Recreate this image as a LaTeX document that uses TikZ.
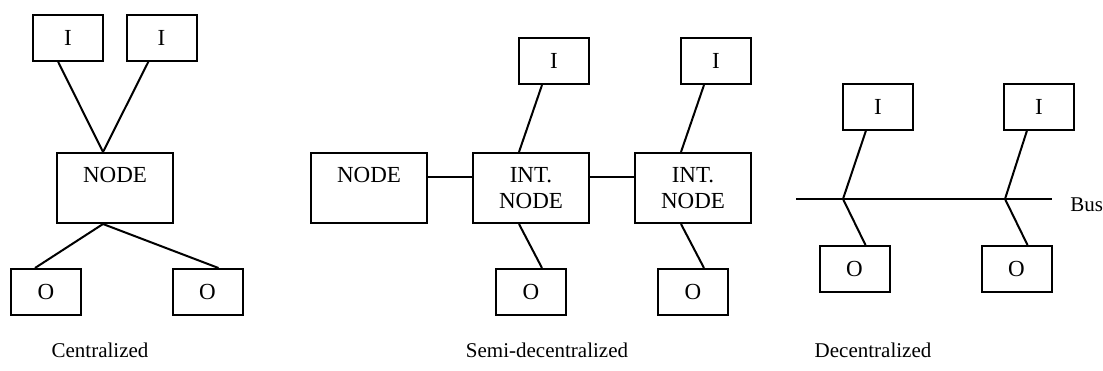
\documentclass[tikz,border=0pt]{standalone}
\usepackage{fontspec}
\setmainfont{Liberation Serif}

\tikzset{
  iobox/.style={draw, line width=1pt, minimum width=35pt, minimum height=23pt, inner sep=0pt, font=\fontsize{11.5}{13}\selectfont},
  nodebox/.style={draw, line width=1pt, minimum width=58pt, minimum height=35pt, inner sep=0pt, align=center, font=\fontsize{11.5}{13}\selectfont},
  link/.style={line width=1pt},
  caption/.style={font=\fontsize{10.5}{12}\selectfont}
}

\begin{document}
\begin{tikzpicture}[x=0.5pt, y=-0.5pt]
    \useasboundingbox (0,0) rectangle (1103,370);

    % Centralized: one node with all inputs and outputs
    \node[iobox] (cInA) at (68, 37.5) {I};
    \node[iobox] (cInB) at (161.5, 37.5) {I};
    \node[nodebox] (cHub) at (115, 188) {NODE\\\mbox{}};
    \node[iobox] (cOutA) at (46, 292) {O};
    \node[iobox] (cOutB) at (207.5, 292) {O};

    \draw[link] ([xshift=-5pt]cInA.south) -- ([xshift=-6pt]cHub.north);
    \draw[link] ([xshift=-6.5pt]cInB.south) -- ([xshift=-6pt]cHub.north);
    \draw[link] ([xshift=-6pt]cHub.south) -- ([xshift=-5.5pt]cOutA.north);
    \draw[link] ([xshift=-6pt]cHub.south) -- ([xshift=5.5pt]cOutB.north);

    \node[caption] (cCap) at (100, 350) {Centralized};

    % Semi-decentralized: node chained to intermediate nodes
    \node[nodebox] (sHub) at (369, 188) {NODE\\\mbox{}};
    \node[nodebox] (sIntA) at (531, 188) {INT.\\NODE};
    \node[nodebox] (sIntB) at (693, 188) {INT.\\NODE};
    \node[iobox] (sInA) at (554, 61) {I};
    \node[iobox] (sInB) at (716, 61) {I};
    \node[iobox] (sOutA) at (531, 292) {O};
    \node[iobox] (sOutB) at (693, 292) {O};

    \draw[link] ([yshift=5.5pt]sHub.east) -- ([yshift=5.5pt]sIntA.west);
    \draw[link] ([yshift=5.5pt]sIntA.east) -- ([yshift=5.5pt]sIntB.west);
    \draw[link] ([xshift=-6pt]sInA.south) -- ([xshift=-6pt]sIntA.north);
    \draw[link] ([xshift=-6pt]sInB.south) -- ([xshift=-6pt]sIntB.north);
    \draw[link] ([xshift=-6pt]sIntA.south) -- ([xshift=5.5pt]sOutA.north);
    \draw[link] ([xshift=-6pt]sIntB.south) -- ([xshift=5.5pt]sOutB.north);

    \node[caption] (sCap) at (547, 350) {Semi-decentralized};

    % Decentralized: inputs and outputs hang on a shared bus
    \node[iobox] (dInA) at (878, 106.5) {I};
    \node[iobox] (dInB) at (1039, 106.5) {I};
    \node[iobox] (dOutA) at (854.5, 269) {O};
    \node[iobox] (dOutB) at (1016.5, 269) {O};

    \coordinate (busL) at (796, 199);
    \coordinate (busR) at (1052, 199);
    \coordinate (tapA) at (843, 199);
    \coordinate (tapB) at (1005, 199);
    \draw[link] (busL) -- (busR);

    \draw[link] ([xshift=-6pt]dInA.south) -- (tapA) -- ([xshift=5.5pt]dOutA.north);
    \draw[link] ([xshift=-6pt]dInB.south) -- (tapB) -- ([xshift=5.5pt]dOutB.north);

    \node[caption, anchor=west, inner sep=0pt] (busLabel) at (1070, 205) {Bus};
    \node[caption] (dCap) at (873, 350) {Decentralized};

\end{tikzpicture}
\end{document}
